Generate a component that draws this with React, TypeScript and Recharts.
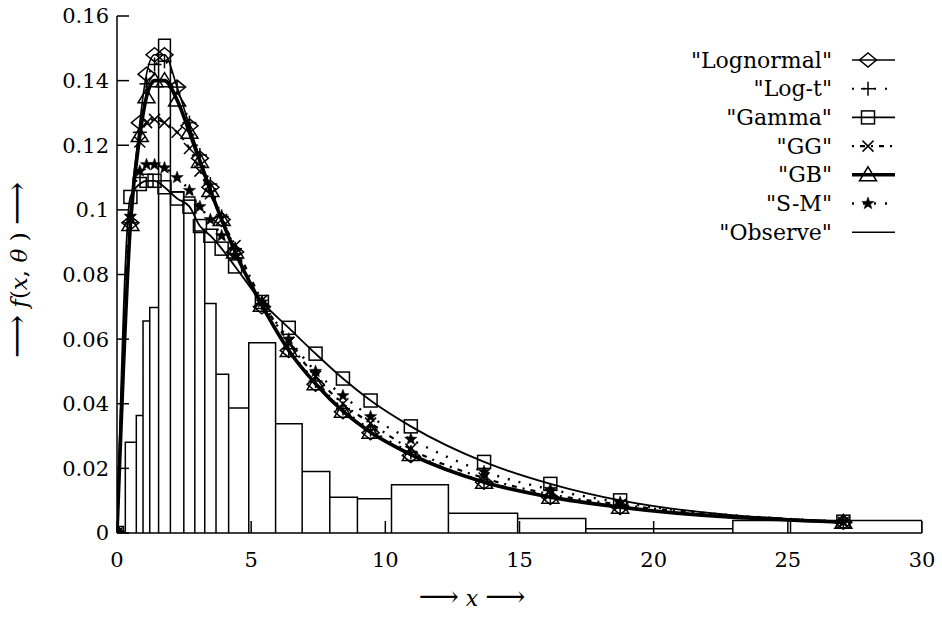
import { ComposedChart, Line, XAxis, YAxis, Legend, Label } from "recharts";

const FONT = '"DejaVu Serif", "Liberation Serif", serif';

// x positions of the fitted-curve points
const xs = [0, 0.5, 0.85, 1.1, 1.4, 1.77, 2.24, 2.7, 3.09, 3.48, 3.9, 4.4, 5.4, 6.4, 7.4, 8.42, 9.45, 10.95, 13.68, 16.15, 18.75, 27.07];

const lognormal = [0, 0.096, 0.127, 0.142, 0.148, 0.148, 0.138, 0.126, 0.116, 0.107, 0.097, 0.087, 0.07, 0.0565, 0.046, 0.0375, 0.031, 0.024, 0.0157, 0.011, 0.0079, 0.0033];
const logT = [0, 0.096, 0.124, 0.139, 0.145, 0.146, 0.138, 0.127, 0.117, 0.108, 0.098, 0.088, 0.071, 0.057, 0.047, 0.0385, 0.032, 0.025, 0.016, 0.0115, 0.0082, 0.0034];
const gamma = [0, 0.104, 0.108, 0.109, 0.109, 0.107, 0.1035, 0.101, 0.095, 0.092, 0.088, 0.0825, 0.0715, 0.0635, 0.0555, 0.0478, 0.041, 0.033, 0.022, 0.0152, 0.0101, 0.0035];
const gg = [0, 0.097, 0.121, 0.127, 0.128, 0.127, 0.124, 0.119, 0.112, 0.105, 0.097, 0.089, 0.072, 0.059, 0.0485, 0.04, 0.034, 0.026, 0.017, 0.012, 0.0088, 0.0033];
const gb = [0, 0.0955, 0.123, 0.135, 0.14, 0.14, 0.134, 0.124, 0.115, 0.106, 0.097, 0.087, 0.0705, 0.0565, 0.0462, 0.0377, 0.0312, 0.0243, 0.0157, 0.0111, 0.008, 0.0033];
const sm = [0, 0.098, 0.112, 0.114, 0.114, 0.113, 0.11, 0.106, 0.101, 0.097, 0.092, 0.086, 0.0715, 0.06, 0.05, 0.0425, 0.036, 0.029, 0.019, 0.0135, 0.0095, 0.0035];

// observed histogram: bin edges and heights
const binEdges = [0.31, 0.72, 0.97, 1.22, 1.55, 1.99, 2.49, 2.9, 3.27, 3.69, 4.16, 4.91, 5.91, 6.9, 7.93, 8.96, 10.23, 12.35, 14.93, 17.47, 22.95, 25.1, 30];
const observed = [0.0281, 0.0364, 0.0656, 0.0698, 0.1528, 0.1056, 0.104, 0.0935, 0.071, 0.0491, 0.0387, 0.0589, 0.0338, 0.019, 0.0111, 0.0106, 0.0149, 0.0061, 0.0045, 0.0013, 0.0039, 0.0039];

const xTicks = [0, 5, 10, 15, 20, 25, 30];
const yTicks = [0, 0.02, 0.04, 0.06, 0.08, 0.1, 0.12, 0.14, 0.16];

type Shape = "diamond" | "plus" | "square" | "cross" | "triangle" | "star" | "none";

const series: { label: string; values: number[]; shape: Shape; width: number; dash?: string }[] = [
  { label: '"Lognormal"', values: lognormal, shape: "diamond", width: 1.6 },
  { label: '"Log-t"', values: logT, shape: "plus", width: 2, dash: "2 9" },
  { label: '"Gamma"', values: gamma, shape: "square", width: 1.8 },
  { label: '"GG"', values: gg, shape: "cross", width: 2.2, dash: "2 6 5 6" },
  { label: '"GB"', values: gb, shape: "triangle", width: 3.6 },
  { label: '"S-M"', values: sm, shape: "star", width: 2.4, dash: "2 9" },
];

const histData = binEdges.slice(0, -1).flatMap((x0, i) => [
  { x: x0, y: 0 },
  { x: x0, y: observed[i] },
  { x: binEdges[i + 1], y: observed[i] },
  { x: binEdges[i + 1], y: 0 },
]);

function marker(shape: Shape, cx: number, cy: number, key?: string) {
  const st = { stroke: "#000", strokeWidth: 1.5, fill: "none" };
  switch (shape) {
    case "diamond":
      return <polygon key={key} points={`${cx},${cy - 7} ${cx + 8.5},${cy} ${cx},${cy + 7} ${cx - 8.5},${cy}`} {...st} />;
    case "plus":
      return (
        <g key={key} {...st}>
          <line x1={cx - 7} x2={cx + 7} y1={cy} y2={cy} />
          <line x1={cx} x2={cx} y1={cy - 7} y2={cy + 7} />
        </g>
      );
    case "square":
      return <rect key={key} x={cx - 6.5} y={cy - 6.5} width={13} height={13} {...st} />;
    case "cross":
      return (
        <g key={key} {...st}>
          <line x1={cx - 5.5} x2={cx + 5.5} y1={cy - 5.5} y2={cy + 5.5} />
          <line x1={cx - 5.5} x2={cx + 5.5} y1={cy + 5.5} y2={cy - 5.5} />
        </g>
      );
    case "triangle":
      return <polygon key={key} points={`${cx},${cy - 8} ${cx + 8.5},${cy + 6} ${cx - 8.5},${cy + 6}`} {...st} />;
    case "star": {
      const pts: string[] = [];
      for (let k = 0; k < 10; k++) {
        const r = k % 2 === 0 ? 6.5 : 2.7;
        const a = -Math.PI / 2 + (k * Math.PI) / 5;
        pts.push(`${cx + r * Math.cos(a)},${cy + r * Math.sin(a)}`);
      }
      return <polygon key={key} points={pts.join(" ")} fill="#000" stroke="#000" strokeWidth={0.5} />;
    }
    default:
      return <g key={key} />;
  }
}

function LegendBox() {
  const rows = [...series.map((s) => ({ label: s.label, shape: s.shape, width: s.width, dash: s.dash })), { label: '"Observe"', shape: "none" as Shape, width: 1.5, dash: undefined }];
  return (
    <svg width={280} height={215} style={{ overflow: "visible" }}>
      {rows.map((r, i) => {
        const y = 20 + i * 28.7;
        return (
          <g key={r.label}>
            <text x={192} y={y} textAnchor="end" dominantBaseline="central" fontFamily={FONT} fontSize={22} fill="#000">
              {r.label}
            </text>
            <line x1={212} x2={255} y1={y} y2={y} stroke="#000" strokeWidth={r.width} strokeDasharray={r.dash} />
            {marker(r.shape, 228, y)}
          </g>
        );
      })}
    </svg>
  );
}

const tickStyle = { fontSize: 21, fill: "#000", fontFamily: FONT };

export default function App() {
  return (
    <div style={{ position: "absolute", left: 0, top: 0, background: "#fff" }}>
      <ComposedChart width={942} height={621} margin={{ top: 16, right: 20, left: 0, bottom: 0 }}>
        <XAxis
          dataKey="x"
          type="number"
          domain={[0, 30]}
          ticks={xTicks}
          height={88}
          tickSize={-12}
          tickMargin={31}
          stroke="#000"
          strokeWidth={1.5}
          tick={tickStyle}
          allowDataOverflow
        >
          <Label
            content={() => (
              <text x={472} y={606} textAnchor="middle" fontFamily={FONT} fontSize={22} fill="#000">
                <tspan fontSize={28}>{"⟶"}</tspan>
                {" "}
                <tspan fontStyle="italic">x</tspan>
                {" "}
                <tspan fontSize={28}>{"⟶"}</tspan>
              </text>
            )}
          />
        </XAxis>
        <XAxis xAxisId="top" orientation="top" type="number" domain={[0, 30]} ticks={xTicks} height={0} tickSize={-12} tickFormatter={() => ""} stroke="#000" strokeWidth={1.5} allowDataOverflow />
        <YAxis
          type="number"
          domain={[0, 0.16]}
          ticks={yTicks}
          width={117}
          tickSize={-12}
          tickMargin={20}
          stroke="#000"
          strokeWidth={1.5}
          tick={tickStyle}
          allowDataOverflow
        >
          <Label
            content={() => (
              <text x={27} y={270} transform="rotate(-90 27 270)" textAnchor="middle" fontFamily={FONT} fontSize={23} fill="#000">
                <tspan fontSize={30}>{"⟶"}</tspan>
                {"  "}
                <tspan fontStyle="italic">f</tspan>
                {"("}
                <tspan fontStyle="italic">x</tspan>
                {", "}
                <tspan fontStyle="italic">θ</tspan>
                {" )  "}
                <tspan fontSize={30}>{"⟶"}</tspan>
              </text>
            )}
          />
        </YAxis>
        <YAxis yAxisId="right" orientation="right" type="number" domain={[0, 0.16]} ticks={yTicks} width={0} tickSize={-12} tickFormatter={() => ""} stroke="#000" strokeWidth={1.5} allowDataOverflow />
        <Legend layout="horizontal" verticalAlign="middle" align="center" wrapperStyle={{ left: 640, top: 40, width: 280 }} content={() => <LegendBox />} />
        <Line
          data={histData}
          dataKey="y"
          name='"Observe"'
          type="linear"
          stroke="#000"
          strokeWidth={1.5}
          dot={false}
          isAnimationActive={false}
        />
        {series.map((s) => (
          <Line
            key={s.label}
            data={xs.map((x, i) => ({ x, y: s.values[i] }))}
            dataKey="y"
            name={s.label}
            type="monotone"
            stroke="#000"
            strokeWidth={s.width}
            strokeDasharray={s.dash}
            dot={(p: any) => marker(s.shape, p.cx, p.cy, `${s.shape}-${p.index}`)}
            activeDot={false}
            isAnimationActive={false}
          />
        ))}
      </ComposedChart>
    </div>
  );
}
